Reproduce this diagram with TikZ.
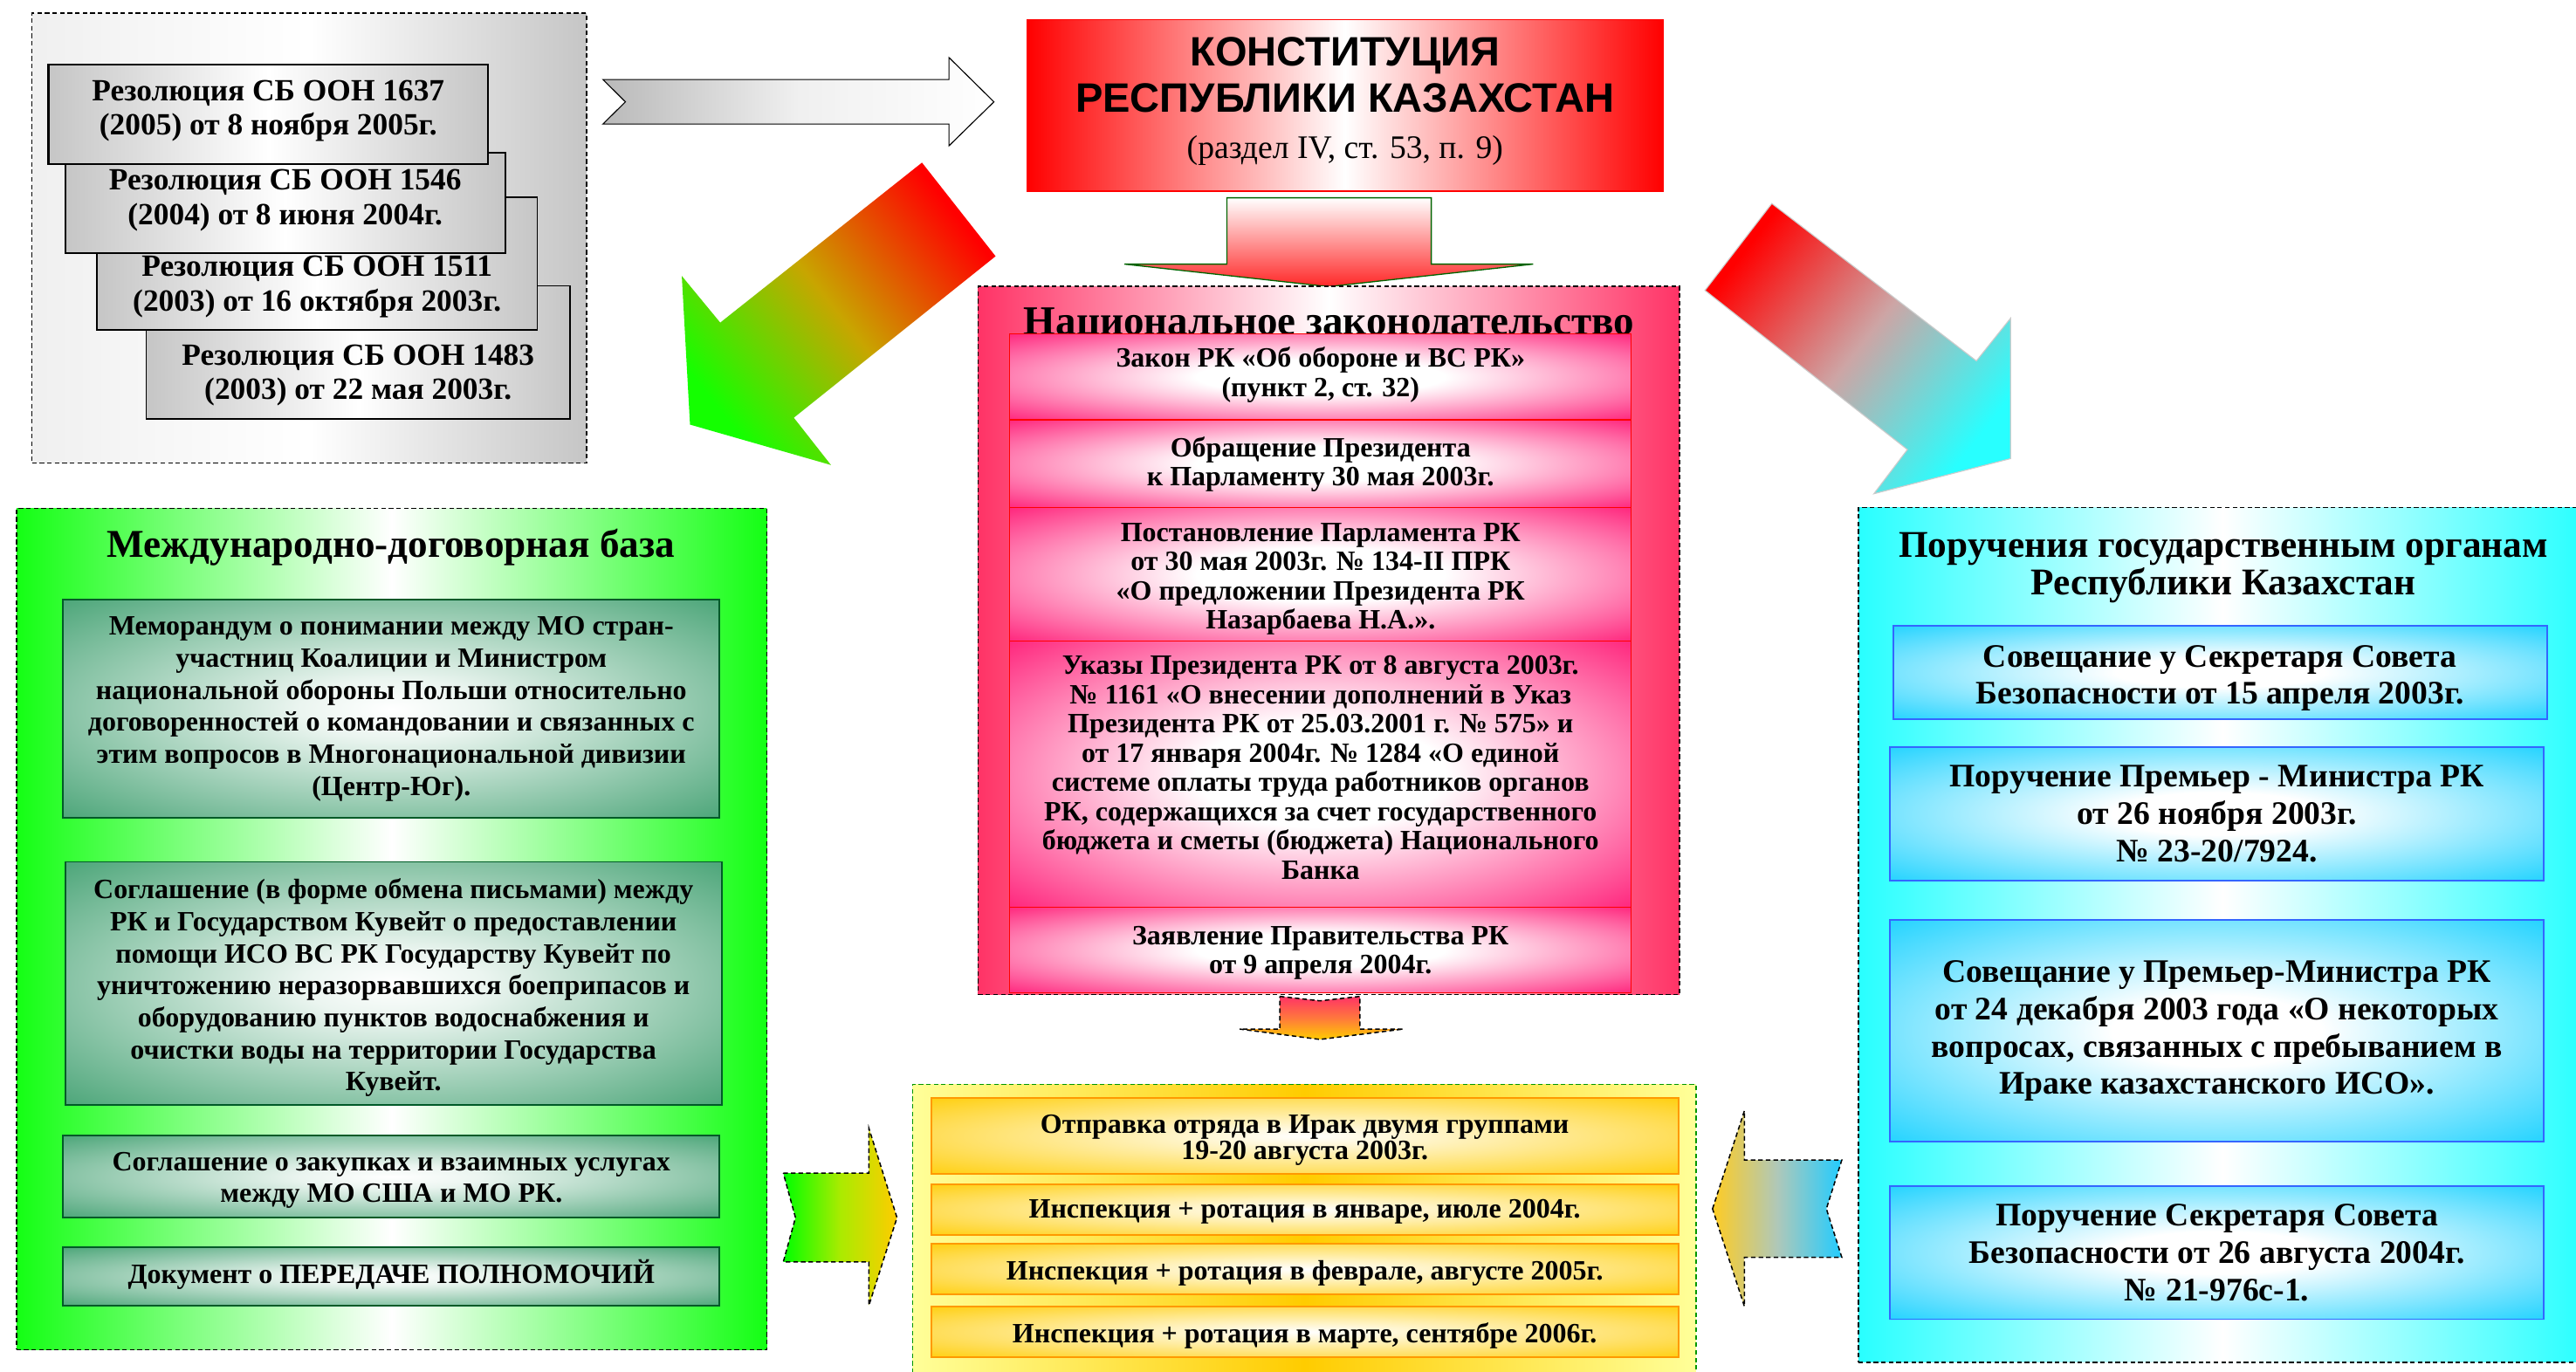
\documentclass[tikz,border=0pt]{standalone}
\usepackage{fontspec}
\setmainfont{Liberation Serif}
\setsansfont{Liberation Sans}
\newfontfamily\serifreg{Liberation Serif}
\usetikzlibrary{calc}

\definecolor{pinkc}{RGB}{255,0,102}
\definecolor{pinkp}{RGB}{255,51,102}
\definecolor{seag}{RGB}{51,153,102}
\definecolor{dkg}{RGB}{0,90,40}
\definecolor{bluebox}{RGB}{0,204,255}
\definecolor{blueb}{RGB}{51,102,255}
\definecolor{goldc}{RGB}{255,204,0}
\definecolor{orangeb}{RGB}{255,153,0}
\definecolor{cyanp}{RGB}{40,255,255}
\definecolor{greenp}{RGB}{20,255,20}
\definecolor{paley}{RGB}{255,255,153}
\definecolor{ygreen}{RGB}{0,150,0}
\definecolor{arrgreen}{RGB}{0,100,0}

\pgfdeclareradialshading{pinkglow}{\pgfpointorigin}{color(0bp)=(white); color(10bp)=(white); color(40bp)=(pinkc); color(75bp)=(pinkc)}
\pgfdeclareradialshading{greenglow}{\pgfpointorigin}{color(0bp)=(white); color(7bp)=(white!90!seag); color(40bp)=(seag); color(75bp)=(seag)}
\pgfdeclareradialshading{blueglow}{\pgfpointorigin}{color(0bp)=(white); color(8bp)=(white); color(40bp)=(bluebox); color(75bp)=(bluebox)}
\pgfdeclareradialshading{goldglow}{\pgfpointorigin}{color(0bp)=(white); color(6bp)=(white!85!goldc); color(38bp)=(goldc); color(75bp)=(goldc)}

\newcommand\mylines[2][0]{\raisebox{#1pt}[\height][\depth]{\begin{tabular}{@{}c@{}}#2\end{tabular}}}

\begin{document}
\begin{tikzpicture}[x=1pt,y=-1pt,
  panel/.style={draw=black, dash pattern=on 2.8pt off 1.8pt, line width=0.8pt, inner sep=0pt, outer sep=0pt},
  resbox/.style={draw=black, line width=0.9pt, left color=gray!45, right color=gray!45, middle color=white, inner sep=0pt, outer sep=0pt, font=\bfseries\fontsize{18.8}{21}\selectfont},
  natbox/.style={draw=red, line width=0.6pt, shade, shading=pinkglow, inner sep=0pt, outer sep=0pt, minimum width=378.2, font=\bfseries\fontsize{17}{17.8}\selectfont},
  gbox/.style={draw=dkg, line width=1pt, shade, shading=greenglow, inner sep=0pt, outer sep=0pt, minimum width=399.6, font=\bfseries\fontsize{17}{19.5}\selectfont},
  cbox/.style={draw=blueb, line width=1pt, shade, shading=blueglow, inner sep=0pt, outer sep=0pt, minimum width=398, font=\bfseries\fontsize{20}{22.7}\selectfont},
  ybox/.style={draw=orangeb, line width=1.1pt, shade, shading=goldglow, inner sep=0pt, outer sep=0pt, minimum width=455, font=\bfseries\fontsize{17}{16}\selectfont},
  ttl/.style={inner sep=0pt, outer sep=0pt, font=\bfseries\fontsize{24}{28}\selectfont},
  dashedarrow/.style={draw=black, dash pattern=on 2.8pt off 1.8pt, line width=0.8pt}
]
\useasboundingbox (0,0) rectangle (1568,835);

% ---------- resolutions ----------
\node[panel, left color=gray!12, right color=gray!45, middle color=white, minimum width=337.5, minimum height=274] (grp) at (188.25,145) {};
\node[resbox, minimum width=258, minimum height=81] (r4) at (218,214.5) {\mylines[-14]{Резолюция СБ ООН 1483\\(2003) от 22 мая 2003г.}};
\node[resbox, minimum width=268, minimum height=81] (r3) at (193,160.5) {\mylines[-14]{Резолюция СБ ООН 1511\\(2003) от 16 октября 2003г.}};
\node[resbox, minimum width=267.8, minimum height=61] (r2) at (173.6,123.5) {\mylines[1.5]{Резолюция СБ ООН 1546\\(2004) от 8 июня 2004г.}};
\node[resbox, line width=1.3pt, minimum width=267.4, minimum height=60.7] (r1) at (163.3,69.65) {\mylines[2]{Резолюция СБ ООН 1637\\(2005) от 8 ноября 2005г.}};

% big grey arrow
\path[draw=black, line width=0.6pt, left color=gray!55, right color=white, middle color=gray!12]
  (367,48.4) -- (577.6,48.4) -- (577.6,35) -- (605,62) -- (577.6,88.8) -- (577.6,75.5) -- (367,75.5) -- (380.7,62) -- cycle;

% ---------- constitution ----------
\node[draw=red, line width=0.8pt, left color=red, right color=red, middle color=white, inner sep=0pt, outer sep=0pt,
  minimum width=387.4, minimum height=104.4, font=\sffamily\bfseries\fontsize{25}{28}\selectfont] (const) at (818.7,64.2)
  {\mylines[1.6]{КОНСТИТУЦИЯ\\РЕСПУБЛИКИ КАЗАХСТАН\\{\serifreg\mdseries\fontsize{20}{28}\selectfont (раздел IV, ст. 53, п. 9)}}};

% down arrow
\path[draw=arrgreen, line width=0.7pt, top color=white, bottom color={rgb,255:red,255;green,40;blue,40}]
  (746.8,120.4) -- (871.2,120.4) -- (871.2,160.8) -- (933.2,160.8) -- (808.6,174.5) -- (684.5,160.8) -- (746.8,160.8) -- cycle;

% ---------- national legislation ----------
\node[panel, left color=pinkp, right color=pinkp, middle color=white, minimum width=426.9, minimum height=431.2] (nat) at (808.85,389.9) {};
\node[ttl, font=\bfseries\fontsize{25}{30}\selectfont, anchor=base] (natt) at (809,204) {Национальное законодательство};
\node[natbox, minimum height=52.5] (n1) at (803.8,229.35) {\mylines[0.5]{Закон РК «Об обороне и ВС РК»\\(пункт 2, ст. 32)}};
\node[natbox, minimum height=53.5] (n2) at (803.8,282.35) {\mylines[-1]{Обращение Президента\\к Парламенту 30 мая 2003г.}};
\node[natbox, minimum height=81.2] (n3) at (803.8,349.7) {\mylines[-3]{Постановление Парламента РК\\от 30 мая 2003г. № 134-II ПРК\\«О предложении Президента РК\\Назарбаева Н.А.».}};
\node[natbox, minimum height=161.9] (n4) at (803.8,471.25) {\mylines[2]{Указы Президента РК от 8 августа 2003г.\\№ 1161 «О внесении дополнений в Указ\\Президента РК от 25.03.2001 г. № 575» и\\от 17 января 2004г. № 1284 «О единой\\системе оплаты труда работников органов\\РК, содержащихся за счет государственного\\бюджета и сметы (бюджета) Национального\\Банка}};
\node[natbox, minimum height=52.1] (n5) at (803.8,578.25) {\mylines[-2]{Заявление Правительства РК\\от 9 апреля 2004г.}};

% small down arrow
\path[dashedarrow, top color=pinkp, bottom color=goldc, middle color={rgb,255:red,255;green,120;blue,60}]
  (779,606.6) -- (803.4,609.3) -- (827.8,606.6) -- (827.8,626.5) -- (854.2,626.5) -- (803.4,632.8) -- (754.6,626.5) -- (779,626.5) -- cycle;

% ---------- yellow panel ----------
\node[panel, draw=ygreen, left color=paley, right color=paley, middle color=goldc, minimum width=476.9, minimum height=179.7] (yel) at (793.85,750.15) {};
\node[ybox, minimum height=46.1] (y1) at (794.2,691.65) {\mylines[-3]{Отправка отряда в Ирак двумя группами\\19-20 августа 2003г.}};
\node[ybox, minimum height=31] (y2) at (794.2,736.4) {\mylines[-2]{Инспекция + ротация в январе, июле 2004г.}};
\node[ybox, minimum height=30.9] (y3) at (794.2,772.65) {\mylines[-3]{Инспекция + ротация в феврале, августе 2005г.}};
\node[ybox, minimum height=31] (y4) at (794.2,810.8) {\mylines[-3]{Инспекция + ротация в марте, сентябре 2006г.}};

% ---------- green panel ----------
\node[panel, left color=greenp, right color=greenp, middle color=white, minimum width=456.7, minimum height=512.1] (grn) at (238.35,565.65) {};
\node[ttl, anchor=base] (grnt) at (238,339.4) {Международно-договорная база};
\node[gbox, minimum height=133] (g1) at (238.2,431.5) {\mylines[0]{Меморандум о понимании между МО стран-\\участниц Коалиции и Министром\\национальной обороны Польши относительно\\договоренностей о командовании и связанных с\\этим вопросов в Многонациональной дивизии\\(Центр-Юг).}};
\node[gbox, minimum height=148] (g2) at (239.5,598.7) {\mylines[-3]{Соглашение (в форме обмена письмами) между\\РК и Государством Кувейт о предоставлении\\помощи ИСО ВС РК Государству Кувейт по\\уничтожению неразорвавшихся боеприпасов и\\оборудованию пунктов водоснабжения и\\очистки воды на территории Государства\\Кувейт.}};
\node[gbox, minimum height=49.8] (g3) at (238.2,716.4) {\mylines[-2]{Соглашение о закупках и взаимных услугах\\между МО США и МО РК.}};
\node[gbox, minimum height=35.7] (g4) at (238.2,777.2) {\mylines[0]{Документ о ПЕРЕДАЧЕ ПОЛНОМОЧИЙ}};

% ---------- cyan panel ----------
\node[panel, left color=cyanp, right color=cyanp, middle color=white, minimum width=443.8, minimum height=520.5] (cyn) at (1353.1,569.15) {};
\node[ttl, font=\bfseries\fontsize{23}{22}\selectfont] (cynt) at (1353.4,346.2) {\mylines{Поручения государственным органам\\Республики Казахстан}};
\node[cbox, minimum height=56.8] (c1) at (1351.3,409.4) {\mylines[-3.5]{Совещание у Секретаря Совета\\Безопасности от 15 апреля 2003г.}};
\node[cbox, minimum height=81.5] (c2) at (1349.4,495.35) {\mylines[-2]{Поручение Премьер - Министра РК\\от 26 ноября 2003г.\\№ 23-20/7924.}};
\node[cbox, minimum height=134.8] (c3) at (1349.4,627.6) {\mylines[0]{Совещание у Премьер-Министра РК\\от 24 декабря 2003 года «О некоторых\\вопросах, связанных с пребыванием в\\Ираке казахстанского ИСО».}};
\node[cbox, minimum height=81] (c4) at (1349.4,762.6) {\mylines[-2]{Поручение Секретаря Совета\\Безопасности от 26 августа 2004г.\\№ 21-976с-1.}};

% ---------- diagonal arrows ----------
\path[top color=red, bottom color={rgb,255:red,20;green,255;blue,0}, middle color={rgb,255:red,200;green,165;blue,0}, shading angle=-51.5]
  (561.2,99) -- (606,156) -- (483.2,254.3) -- (505.8,283.1) -- (420,258.5) -- (415,168) -- (438.4,196.4) -- cycle;
\path[draw=gray!40, line width=0.6pt, top color=red, bottom color=cyanp, middle color={rgb,255:red,205;green,165;blue,165}, shading angle=52]
  (1078.5,123.9) -- (1037.8,176.8) -- (1161,273.7) -- (1140.6,300.6) -- (1223.8,279.2) -- (1223.8,193.7) -- (1203,219.7) -- cycle;

% ---------- side arrows ----------
\path[dashedarrow, left color={rgb,255:red,0;green,255;blue,0}, right color=goldc, middle color={rgb,255:red,170;green,235;blue,0}]
  (476.8,714.2) -- (528.9,714.2) -- (528.9,686.9) -- (546,741.3) -- (528.9,794.7) -- (528.9,768.2) -- (476.8,768.2) -- (484.2,741.3) -- cycle;
\path[dashedarrow, left color={rgb,255:red,255;green,204;blue,34}, right color={rgb,255:red,34;green,204;blue,255}, middle color={rgb,255:red,175;green,200;blue,185}]
  (1042.4,735.9) -- (1061.8,676.2) -- (1061.8,706.2) -- (1121.1,706.2) -- (1111.7,735.9) -- (1121.1,765.5) -- (1061.8,765.5) -- (1061.8,795.3) -- cycle;
\end{tikzpicture}
\end{document}
